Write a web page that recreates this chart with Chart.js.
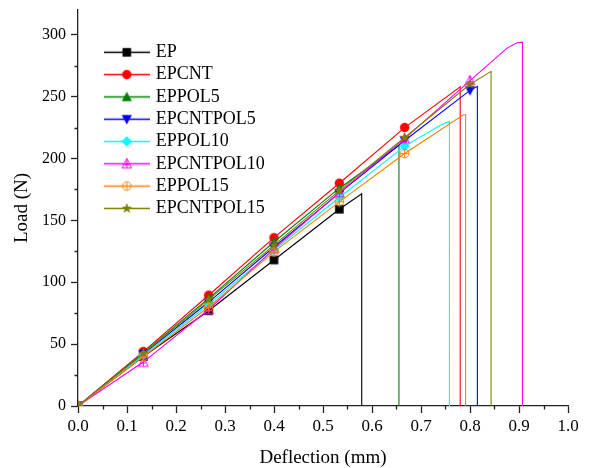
<!DOCTYPE html>
<html>
<head>
<meta charset="utf-8">
<script src="https://cdn.jsdelivr.net/npm/chart.js@4.4.0/dist/chart.umd.min.js"></script>
<style>
  html, body { margin: 0; padding: 0; background: #fff; }
</style>
</head>
<body>
<canvas id="loadChart" width="589" height="468"></canvas>
<script>
// Deflection (mm) where the symbols are plotted
const sampleX = [0, 0.1333, 0.2667, 0.4, 0.5333, 0.6667, 0.8];

// Load (N) at each symbol, up to fracture
const loadEP          = [0, 40, 77, 118, 159];
const loadEPCNT       = [0, 44, 89.5, 136, 180, 225];
const loadEPPOL5      = [0, 43, 87, 132.5, 176];
const loadEPCNTPOL5   = [0, 42, 84, 128.5, 172, 214.5, 255];
const loadEPPOL10     = [0, 41, 82, 126, 168.5, 210];
const loadEPCNTPOL10  = [0, 35.5, 78, 127, 172.5, 216, 263];
const loadEPPOL15     = [0, 40, 80, 124.5, 165, 204];
const loadEPCNTPOL15  = [0, 42.5, 86, 130, 174, 217, 260];

// [deflection, load] after the last symbol; the last pair is the peak load at fracture
const tailEP          = [[0.579, 171.5]];
const tailEPCNT       = [[0.780, 258]];
const tailEPPOL5      = [[0.655, 210.5]];
const tailEPCNTPOL5   = [[0.815, 258.3]];
const tailEPPOL10     = [[0.742, 227.5], [0.758, 229.8]];
const tailEPCNTPOL10  = [[0.875, 289], [0.895, 293.3], [0.907, 294]];
const tailEPPOL15     = [[0.785, 235], [0.791, 235.5]];
const tailEPCNTPOL15  = [[0.843, 270.4]];

const seriesNames = ['EP', 'EPCNT', 'EPPOL5', 'EPCNTPOL5', 'EPPOL10', 'EPCNTPOL10', 'EPPOL15', 'EPCNTPOL15'];
const seriesLoads = [loadEP, loadEPCNT, loadEPPOL5, loadEPCNTPOL5, loadEPPOL10, loadEPCNTPOL10, loadEPPOL15, loadEPCNTPOL15];
const seriesTails = [tailEP, tailEPCNT, tailEPPOL5, tailEPCNTPOL5, tailEPPOL10, tailEPCNTPOL10, tailEPPOL15, tailEPCNTPOL15];

const seriesColors = ['#000000', '#ff0000', '#008000', '#0000ff', '#00ffff', '#ff00ff', '#ff8000', '#808000'];
const seriesSymbols = ['square', 'circle', 'up', 'down', 'diamond', 'upPlus', 'circlePlus', 'star'];

const serif = "'Liberation Serif', 'Times New Roman', serif";

// Draw a symbol into a small canvas (optionally with a line through it for the legend)
function makeSymbol(shape, color, withLine) {
  const w = withLine ? 46 : 13;
  const h = 13;
  const c = document.createElement('canvas');
  c.width = w;
  c.height = h;
  const g = c.getContext('2d');
  const cx = w / 2, cy = h / 2, r = 4.3;

  if (withLine) {
    g.strokeStyle = color;
    g.lineWidth = 1.5;
    g.beginPath();
    g.moveTo(0, cy);
    g.lineTo(w, cy);
    g.stroke();
  }

  g.fillStyle = color;
  g.strokeStyle = color;
  g.lineWidth = 1;
  g.beginPath();
  switch (shape) {
    case 'square':
      g.fillRect(cx - r, cy - r, 2 * r, 2 * r);
      break;
    case 'circle':
      g.arc(cx, cy, r + 0.4, 0, Math.PI * 2);
      g.fill();
      break;
    case 'up':
      g.moveTo(cx, cy - r - 1);
      g.lineTo(cx + r + 0.8, cy + r);
      g.lineTo(cx - r - 0.8, cy + r);
      g.closePath();
      g.fill();
      break;
    case 'down':
      g.moveTo(cx, cy + r + 1);
      g.lineTo(cx + r + 0.8, cy - r);
      g.lineTo(cx - r - 0.8, cy - r);
      g.closePath();
      g.fill();
      break;
    case 'diamond':
      g.moveTo(cx, cy - r - 1);
      g.lineTo(cx + r + 1, cy);
      g.lineTo(cx, cy + r + 1);
      g.lineTo(cx - r - 1, cy);
      g.closePath();
      g.fill();
      break;
    case 'upPlus':
      g.moveTo(cx, cy - r - 1);
      g.lineTo(cx + r + 0.5, cy + r);
      g.lineTo(cx - r - 0.5, cy + r);
      g.closePath();
      g.moveTo(cx, cy - r - 1);
      g.lineTo(cx, cy + r);
      g.moveTo(cx - r * 0.5, cy + 1);
      g.lineTo(cx + r * 0.5, cy + 1);
      g.stroke();
      break;
    case 'circlePlus':
      g.arc(cx, cy, r, 0, Math.PI * 2);
      g.moveTo(cx - r, cy);
      g.lineTo(cx + r, cy);
      g.moveTo(cx, cy - r);
      g.lineTo(cx, cy + r);
      g.stroke();
      break;
    case 'star':
      for (let k = 0; k < 10; k++) {
        const rr = k % 2 === 0 ? r + 1.2 : (r + 1.2) * 0.42;
        const a = -Math.PI / 2 + k * Math.PI / 5;
        const px = cx + rr * Math.cos(a), py = cy + rr * Math.sin(a);
        if (k === 0) g.moveTo(px, py); else g.lineTo(px, py);
      }
      g.closePath();
      g.fill();
      break;
  }
  return c;
}

const plotSymbols = seriesSymbols.map((s, i) => makeSymbol(s, seriesColors[i], false));
const legendSymbols = seriesSymbols.map((s, i) => makeSymbol(s, seriesColors[i], true));

// Build each curve: symbols, tail up to the peak, then the drop at fracture
const datasets = seriesNames.map((name, i) => {
  const pts = seriesLoads[i].map((y, k) => ({ x: sampleX[k], y }));
  const tail = seriesTails[i];
  tail.forEach(([x, y]) => pts.push({ x, y }));
  const breakX = tail[tail.length - 1][0];
  pts.push({ x: breakX, y: 0 });
  const nSym = seriesLoads[i].length;
  return {
    label: name,
    data: pts,
    borderColor: seriesColors[i],
    backgroundColor: seriesColors[i],
    borderWidth: 1.1,
    tension: 0,
    pointStyle: plotSymbols[i],
    pointRadius: pts.map((_, k) => (k < nSym ? 4 : 0)),
    pointHoverRadius: 0,
    order: seriesNames.length - i,
  };
});

// Short minor ticks between the labelled ones
const minorTicks = {
  id: 'minorTicks',
  afterDraw(chart) {
    const { ctx, scales: { x, y } } = chart;
    ctx.save();
    ctx.strokeStyle = '#222';
    ctx.lineWidth = 1.3;
    ctx.beginPath();
    for (let v = 0.05; v < 1; v += 0.1) {
      const px = Math.round(x.getPixelForValue(v)) + 0.5;
      ctx.moveTo(px, y.bottom);
      ctx.lineTo(px, y.bottom + 3.5);
    }
    for (let v = 25; v < 320; v += 50) {
      const py = Math.round(y.getPixelForValue(v)) + 0.5;
      ctx.moveTo(x.left, py);
      ctx.lineTo(x.left - 3.5, py);
    }
    ctx.stroke();
    ctx.restore();
  },
};

// Put the legend in the upper left of the plot
const legendSpot = {
  id: 'legendSpot',
  afterLayout(chart) {
    const lg = chart.legend;
    if (!lg) return;
    lg.left = chart.chartArea.left + 24.5;
    lg.top = chart.chartArea.top + 29;
  },
};

new Chart(document.getElementById('loadChart'), {
  type: 'line',
  data: { datasets },
  options: {
    responsive: false,
    animation: false,
    layout: { padding: { top: 10, right: 21, left: 0, bottom: 0 } },
    plugins: {
      legend: {
        position: 'chartArea',
        align: 'start',
        labels: {
          usePointStyle: true,
          pointStyleWidth: 40,
          padding: 4.3,
          color: '#000',
          font: { family: serif, size: 18 },
          generateLabels: (chart) =>
            chart.data.datasets.map((ds, i) => ({
              text: ds.label,
              pointStyle: legendSymbols[i],
              fillStyle: ds.borderColor,
              strokeStyle: ds.borderColor,
              lineWidth: 0,
              hidden: false,
              datasetIndex: i,
            })),
        },
        onClick: () => {},
      },
      tooltip: { enabled: false },
    },
    scales: {
      x: {
        type: 'linear',
        min: 0,
        max: 1,
        afterFit: (s) => {
          s.height = 62;
          s.paddingLeft = 0;
          s.paddingRight = 0;
        },
        border: { color: '#222', width: 1.3 },
        grid: { drawOnChartArea: false, tickLength: 7, color: '#222', tickWidth: 1.3 },
        ticks: {
          stepSize: 0.1,
          autoSkip: false,
          maxRotation: 0,
          padding: 3,
          color: '#000',
          font: { family: serif, size: 17 },
          callback: (v) => v.toFixed(1),
        },
        title: {
          display: true,
          text: 'Deflection (mm)',
          color: '#000',
          font: { family: serif, size: 19, lineHeight: 1 },
          padding: { top: 0, bottom: 0 },
        },
      },
      y: {
        min: 0,
        max: 320,
        afterFit: (s) => {
          s.width = 78;
          s.paddingTop = 0;
          s.paddingBottom = 0;
        },
        border: { color: '#222', width: 1.3 },
        grid: { drawOnChartArea: false, tickLength: 7, color: '#222', tickWidth: 1.3 },
        ticks: {
          stepSize: 50,
          includeBounds: false,
          padding: 5,
          color: '#000',
          font: { family: serif, size: 16 },
        },
        title: {
          display: true,
          text: 'Load (N)',
          color: '#000',
          font: { family: serif, size: 19, lineHeight: 1 },
          padding: { top: 13, bottom: 0 },
        },
      },
    },
  },
  plugins: [minorTicks, legendSpot],
});
</script>
</body>
</html>
